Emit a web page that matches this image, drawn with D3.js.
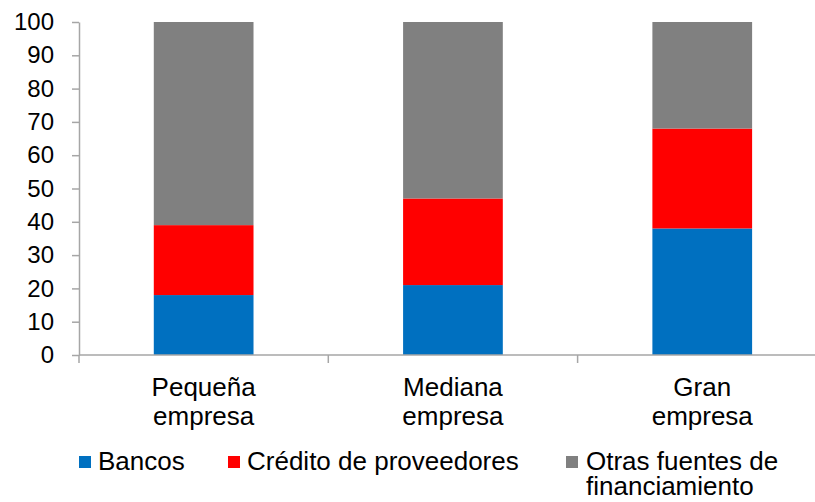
<!DOCTYPE html>
<html>
<head>
<meta charset="utf-8">
<script src="https://cdn.jsdelivr.net/npm/d3@7"></script>
<style>
    body { margin: 0; background: #fff; }
    svg { display: block; font-family: "Liberation Sans", Arial, sans-serif; }
</style>
</head>
<body>
<div id="chart"></div>
<script>
// chart data
const categories = [["Pequeña", "empresa"], ["Mediana", "empresa"], ["Gran", "empresa"]];
const seriesNames = ["Bancos", "Crédito de proveedores", "Otras fuentes de financiamiento"];
const bancos = [18, 21, 38];
const credito = [21, 26, 30];
const otras = [61, 53, 32];
const yTicks = [0, 10, 20, 30, 40, 50, 60, 70, 80, 90, 100];

const colors = ["#0070C0", "#FF0000", "#808080"];
const axisColor = "#A6A6A6";

const width = 815;
const height = 502;
const margin = ({
    top: 22,
    left: 79,
    bottom: 355
});
const bandWidth = 249.3;

const rows = categories.map((c, i) => ({
    key: i,
    b: bancos[i],
    c: credito[i],
    o: otras[i]
}));

let svg = d3.select("#chart")
    .append("svg")
    .attr("width", width)
    .attr("height", height);

const x = d3.scaleBand()
    .domain(rows.map(d => d.key))
    .range([margin.left, margin.left + bandWidth * categories.length])
    .paddingInner(0)
    .paddingOuter(0);

const y = d3.scaleLinear()
    .domain([0, 100])
    .range([margin.bottom, margin.top]);

const stacked = d3.stack().keys(["b", "c", "o"])(rows);

const barW = x.bandwidth() * 0.4;

svg.append("g")
    .selectAll("g")
    .data(stacked)
    .join("g")
    .attr("fill", (d, i) => colors[i])
    .selectAll("rect")
    .data(d => d)
    .join("rect")
    .attr("x", d => x(d.data.key) + (x.bandwidth() - barW) / 2)
    .attr("width", barW)
    .attr("y", d => y(d[1]))
    .attr("height", d => y(d[0]) - y(d[1]));

// y axis
const yAxis = svg.append("g")
    .attr("transform", `translate(${margin.left},0)`)
    .call(d3.axisLeft(y).tickValues(yTicks).tickSize(7).tickPadding(18).tickSizeOuter(0));
yAxis.selectAll("line, path").attr("stroke", axisColor).attr("stroke-width", 1.5);
yAxis.selectAll("text")
    .attr("font-size", "24px")
    .attr("fill", "#000")
    .attr("font-family", "Liberation Sans, Arial, sans-serif");

// x axis line and ticks between categories
const xg = svg.append("g");
xg.append("line")
    .attr("x1", margin.left)
    .attr("x2", width)
    .attr("y1", y(0))
    .attr("y2", y(0))
    .attr("stroke", axisColor)
    .attr("stroke-width", 1.5);
xg.selectAll(".sep")
    .data(rows)
    .join("line")
    .attr("class", "sep")
    .attr("x1", d => x(d.key))
    .attr("x2", d => x(d.key))
    .attr("y1", y(0))
    .attr("y2", y(0) + 8)
    .attr("stroke", axisColor)
    .attr("stroke-width", 1.5);

// category labels
xg.selectAll(".cat")
    .data(rows)
    .join("text")
    .attr("class", "cat")
    .attr("text-anchor", "middle")
    .attr("font-size", "26px")
    .attr("fill", "#000")
    .each(function (d) {
        const t = d3.select(this);
        categories[d.key].forEach((line, j) => {
            t.append("tspan")
                .attr("x", x(d.key) + x.bandwidth() / 2)
                .attr("y", 396 + j * 29)
                .text(line);
        });
    });

// legend
const legendItems = [
    { sq: 79, tx: 98, lines: ["Bancos"] },
    { sq: 228, tx: 247, lines: ["Crédito de proveedores"] },
    { sq: 566, tx: 586, lines: ["Otras fuentes de", "financiamiento"] }
];
const legend = svg.append("g")
    .selectAll("g")
    .data(legendItems)
    .join("g");
legend.append("rect")
    .attr("x", d => d.sq)
    .attr("y", 456)
    .attr("width", 12)
    .attr("height", 12)
    .attr("fill", (d, i) => colors[i]);
legend.append("text")
    .attr("font-size", "26px")
    .attr("fill", "#000")
    .each(function (d) {
        const t = d3.select(this);
        d.lines.forEach((line, j) => {
            t.append("tspan")
                .attr("x", d.tx)
                .attr("y", 470 + j * 25)
                .text(line);
        });
    });
</script>
</body>
</html>
